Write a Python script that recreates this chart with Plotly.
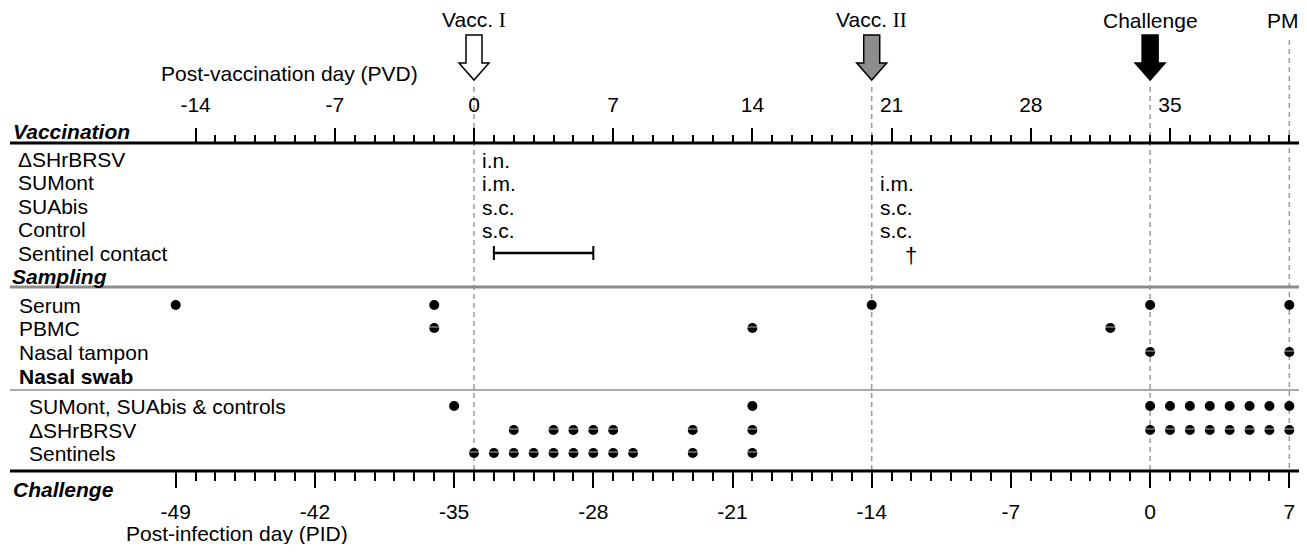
import plotly.graph_objects as go

W, H = 1307, 557
OFF = 8               # default body margin of the html page
WF, HF = W - OFF, H - 2 * OFF - 5   # keep page height within the window (no scrollbar)

# ---------------- data ----------------
pvd_major = [-14, -7, 0, 7, 14, 21, 28, 35]
pvd_minor = list(range(-14, 42))
pid_major = [-49, -42, -35, -28, -21, -14, -7, 0, 7]
pid_minor = list(range(-49, 8))
challenge_pvd = 34  # PVD of challenge = PID 0

events = ["Vacc. <span style='font-family:Liberation Serif'>I</span>",
          "Vacc. <span style='font-family:Liberation Serif'>II</span>",
          "Challenge", "PM"]
event_days = [0, 20, 34, 41]
arrow_days = [0, 20, 34]
arrow_fills = ["white", "#8c8c8c", "black"]

vacc_groups = ["ΔSHrBRSV", "SUMont", "SUAbis", "Control", "Sentinel contact"]
vacc1_routes = ["i.n.", "i.m.", "s.c.", "s.c."]
vacc2_routes = ["", "i.m.", "s.c.", "s.c."]
sentinel_contact = [1, 6]
sentinel_death = 22

sampling_rows = ["Serum", "PBMC", "Nasal tampon"]
serum_days = [-15, -2, 20, 34, 41]
pbmc_days = [-2, 14, 32]
tampon_days = [34, 41]

swab_rows = ["SUMont, SUAbis &amp; controls", "ΔSHrBRSV", "Sentinels"]
swab_su_days = [-1, 14, 34, 35, 36, 37, 38, 39, 40, 41]
swab_dsh_days = [2, 4, 5, 6, 7, 11, 14, 34, 35, 36, 37, 38, 39, 40, 41]
swab_sent_days = [0, 1, 2, 3, 4, 5, 6, 7, 8, 11, 14]

# ---------------- layout constants (screen pixels) ----------------
PX_DAY = 19.886
X_ZERO = 474 - OFF
xr = [-X_ZERO / PX_DAY, (WF - X_ZERO) / PX_DAY]
xr_pid = [xr[0] - challenge_pvd, xr[1] - challenge_pvd]

Y_TOP_RULE = 143
Y_SAMP_RULE = 287
Y_SWAB_RULE = 390
Y_BOT_RULE = 471

vacc_rows_y = [159, 182, 206, 229, 253]
samp_rows_y = [305, 328, 352]
swab_rows_y = [406, 430, 453]
event_label_shift = [0, 0, 0, -6]

FONT = "Liberation Sans, Arial, sans-serif"
FS = 21


def yv(v):
    return v - OFF


def px(xp):
    return (xp - OFF) / WF


fig = go.Figure()

# dashed event lines
for d, y0 in zip(event_days, [87, 87, 87, 40]):
    fig.add_shape(type="line", xref="x", yref="y", x0=d, x1=d, y0=yv(y0), y1=yv(Y_BOT_RULE),
                  line=dict(color="#9a9a9a", width=1.5, dash="5px,4px"), layer="below")

# horizontal rules
for yy, col, wd in [(Y_TOP_RULE, "black", 3), (Y_SAMP_RULE, "#8c8c8c", 3),
                    (Y_SWAB_RULE, "#8c8c8c", 1.5), (Y_BOT_RULE, "black", 3)]:
    fig.add_shape(type="line", xref="paper", yref="y", x0=px(10), x1=1, y0=yv(yy), y1=yv(yy),
                  line=dict(color=col, width=wd))

# arrows
hs = 8 / PX_DAY
hh = 15 / PX_DAY
for d, col in zip(arrow_days, arrow_fills):
    path = (f"M {d-hs},{yv(35)} L {d+hs},{yv(35)} L {d+hs},{yv(63)} L {d+hh},{yv(63)} "
            f"L {d},{yv(80)} L {d-hh},{yv(63)} L {d-hs},{yv(63)} Z")
    fig.add_shape(type="path", xref="x", yref="y", path=path, fillcolor=col,
                  line=dict(color="black", width=1.5))

# event labels
for lab, d, sh in zip(events, event_days, event_label_shift):
    fig.add_annotation(x=d, y=yv(20), xref="x", yref="y", text=lab, showarrow=False, xshift=sh,
                       xanchor="center", yanchor="middle", font=dict(size=FS, color="black", family=FONT))


def left_label(text, xp, yp, bold=False, italic=False):
    t = text
    if italic:
        t = f"<i>{t}</i>"
    if bold:
        t = f"<b>{t}</b>"
    fig.add_annotation(x=px(xp), y=yv(yp), xref="paper", yref="y", text=t, showarrow=False,
                       xanchor="left", yanchor="middle", font=dict(size=FS, color="black", family=FONT))


left_label("Vaccination", 11, 131, bold=True, italic=True)
for g, yy in zip(vacc_groups, vacc_rows_y):
    left_label(g, 16, yy)
left_label("Sampling", 10, 276, bold=True, italic=True)
for g, yy in zip(sampling_rows, samp_rows_y):
    left_label(g, 17, yy)
left_label("Nasal swab", 17, 376, bold=True)
for g, yy in zip(swab_rows, swab_rows_y):
    left_label(g, 27, yy)
left_label("Challenge", 11, 489, bold=True, italic=True)
left_label("Post-vaccination day (PVD)", 159, 73)
left_label("Post-infection day (PID)", 124, 533)

# routes of vaccination
for routes, d in [(vacc1_routes, event_days[0]), (vacc2_routes, event_days[1])]:
    for r, yy in zip(routes, vacc_rows_y):
        if r:
            fig.add_annotation(x=d, y=yv(yy + 1), xref="x", yref="y", text=r, showarrow=False,
                               xanchor="left", yanchor="middle", xshift=6,
                               font=dict(size=FS, color="black", family=FONT))

# sentinel contact bar
fig.add_trace(go.Scatter(x=sentinel_contact, y=[yv(vacc_rows_y[4])] * 2, mode="lines+markers",
                         line=dict(color="black", width=2.5),
                         marker=dict(symbol="line-ns", size=10, line=dict(color="black", width=2)),
                         hoverinfo="skip", showlegend=False))
fig.add_annotation(x=sentinel_death, y=yv(vacc_rows_y[4] + 2), xref="x", yref="y", text="†",
                   showarrow=False, xanchor="center", yanchor="middle",
                   font=dict(size=22, color="black", family=FONT))

# sampling dots (some symbols in the original carry a thin white stripe)
for days, yy, stripe in [(serum_days, samp_rows_y[0], False), (pbmc_days, samp_rows_y[1], True),
                         (tampon_days, samp_rows_y[2], True), (swab_su_days, swab_rows_y[0], False),
                         (swab_dsh_days, swab_rows_y[1], True), (swab_sent_days, swab_rows_y[2], True)]:
    fig.add_trace(go.Scatter(x=days, y=[yv(yy)] * len(days), mode="markers",
                             marker=dict(symbol="circle", size=10, color="black"),
                             hoverinfo="skip", showlegend=False))
    if stripe:
        fig.add_trace(go.Scatter(x=days, y=[yv(yy) - 1] * len(days), mode="markers",
                                 marker=dict(symbol="line-ew", size=10,
                                             line=dict(color="rgba(255,255,255,0.7)", width=1)),
                                 hoverinfo="skip", showlegend=False))

# invisible traces to register the tick axes
fig.add_trace(go.Scatter(x=pvd_major, y=[yv(Y_TOP_RULE)] * len(pvd_major), xaxis="x2", yaxis="y",
                         mode="markers", marker=dict(opacity=0), hoverinfo="skip", showlegend=False))
fig.add_trace(go.Scatter(x=pid_major, y=[yv(Y_BOT_RULE)] * len(pid_major), xaxis="x3", yaxis="y",
                         mode="markers", marker=dict(opacity=0), hoverinfo="skip", showlegend=False))

tickfont = dict(size=FS, color="black", family=FONT)
fig.update_layout(
    width=WF, height=HF, autosize=False,
    margin=dict(l=0, r=0, t=0, b=0, pad=0),
    paper_bgcolor="white", plot_bgcolor="white",
    showlegend=False,
    xaxis=dict(range=xr, visible=False, fixedrange=True),
    yaxis=dict(range=[HF, 0], visible=False, fixedrange=True),
    xaxis2=dict(overlaying="x", anchor="free", position=1 - yv(Y_TOP_RULE) / HF, side="top",
                range=xr, tickmode="array", tickvals=pvd_major, ticktext=[str(v) for v in pvd_major],
                ticks="outside", ticklen=15, tickwidth=2, tickcolor="black",
                minor=dict(tickmode="array", tickvals=pvd_minor, ticks="outside", ticklen=8,
                           tickwidth=2, tickcolor="black"),
                showline=False, showgrid=False, zeroline=False, tickfont=tickfont,
                ticklabelstandoff=8, fixedrange=True),
    xaxis3=dict(overlaying="x", anchor="free", position=1 - yv(Y_BOT_RULE) / HF, side="bottom",
                range=xr_pid, tickmode="array", tickvals=pid_major, ticktext=[str(v) for v in pid_major],
                ticks="outside", ticklen=16, tickwidth=2, tickcolor="black",
                minor=dict(tickmode="array", tickvals=pid_minor, ticks="outside", ticklen=9,
                           tickwidth=2, tickcolor="black"),
                showline=False, showgrid=False, zeroline=False, tickfont=tickfont,
                ticklabelstandoff=6, fixedrange=True),
)

fig.write_html("out.html")
